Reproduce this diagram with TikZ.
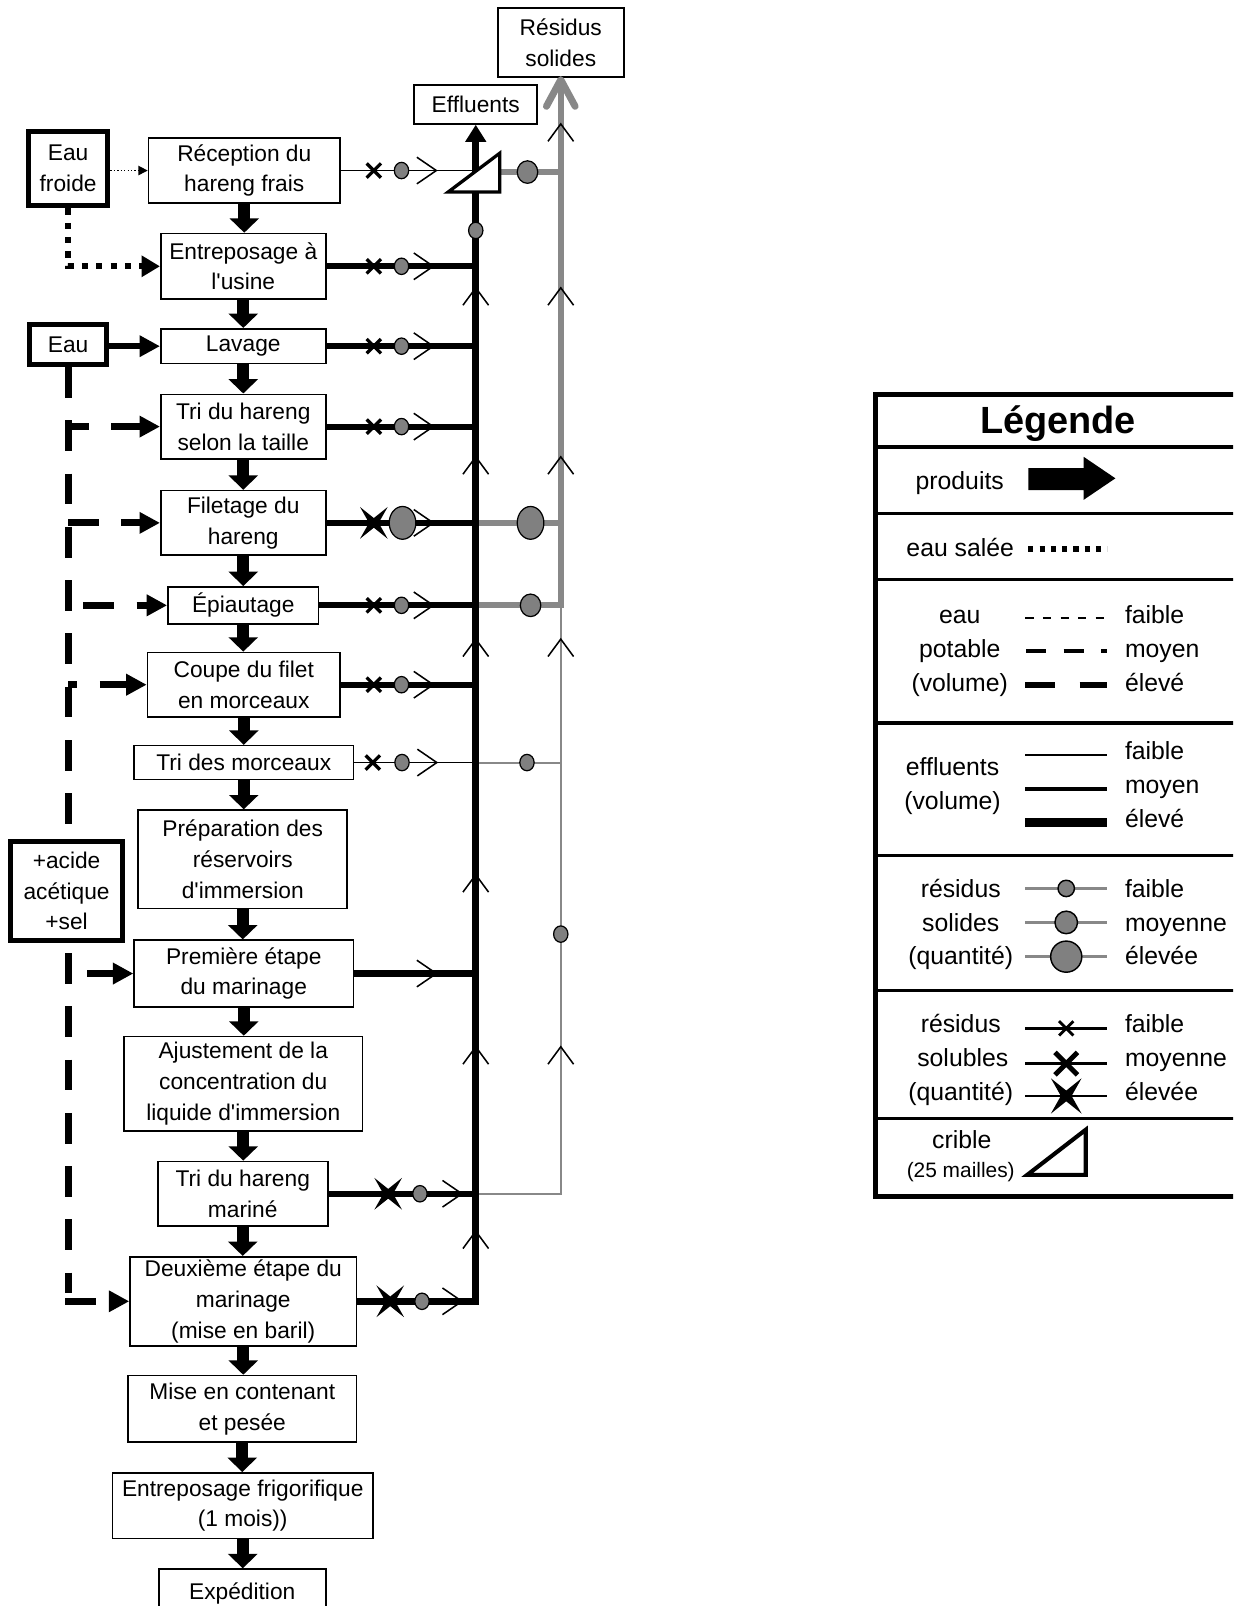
\documentclass[tikz,border=0pt]{standalone}
\usepackage{fontspec}
\setmainfont{Liberation Sans}[Ligatures=TeXOff]
\usetikzlibrary{arrows.meta}
\definecolor{lgray}{RGB}{136,136,136}
\definecolor{cgray}{RGB}{128,128,128}
\newcommand\flowbox[7][]{%
  \node[box,#1,minimum width={(#5-#3)*0.5pt},minimum height={(#6-#4)*0.5pt}]
    (#2) at ({(#3+#5)/2},{(#4+#6)/2}) {#7};}
\newcommand\smx[3][1.6pt]{\draw[line width=#1] ({#2-7},{#3-7}) -- ({#2+7},{#3+7}) ({#2-7},{#3+7}) -- ({#2+7},{#3-7});}
\newcommand\bigx[3]{\fill ({#1-#3},{#2-1.15*#3}) -- (#1,{#2-0.35*#3}) -- ({#1+#3},{#2-1.15*#3}) -- ({#1+0.35*#3},#2) -- ({#1+#3},{#2+1.15*#3}) -- (#1,{#2+0.35*#3}) -- ({#1-#3},{#2+1.15*#3}) -- ({#1-0.35*#3},#2) -- cycle;}
\newcommand\gdot[4]{\draw[fill=cgray,line width=0.6pt] (#1,#2) ellipse [x radius=#3pt, y radius=#4pt];}
\newcommand\hchev[2]{\draw[line width=0.75pt] ({#1-19},{#2-13}) -- (#1,#2) -- ({#1-19},{#2+13});}
\newcommand\vchev[2]{\draw[line width=0.75pt] ({#1-12.5},{#2+17}) -- (#1,#2) -- ({#1+12.5},{#2+17});}
\begin{document}
\begin{tikzpicture}[x=0.5pt,y=-0.5pt,
  box/.style={draw,line width=0.8pt,fill=white,inner sep=0pt,align=center,font=\fontsize{11.1}{15}\selectfont},
  tbox/.style={box,line width=2.5pt},
  prod/.style={line width=6pt,-{Triangle[width=14pt,length=7pt]}},
  effthick/.style={line width=3pt},
  effthin/.style={line width=0.9pt},
  gthick/.style={lgray,line width=3pt},
  gthin/.style={lgray,line width=1pt},
  wdash/.style={line width=3.4pt,dash pattern=on 15pt off 11pt},
  wtip/.style={-{Triangle[width=10pt,length=10pt]}},
  lt/.style={font=\fontsize{12.1}{14}\selectfont,inner sep=0pt,anchor=base},
  lw/.style={lt,anchor=base west},
]
\useasboundingbox (0,0) rectangle (1204,1568);
\clip (0,0) rectangle (1204,1568);

% ---------- process boxes
\flowbox{rec}{145}{135}{332}{198}{Réception du\\hareng frais}
\flowbox{ent}{157}{228}{318}{292}{Entreposage à\\l'usine}
\flowbox{lav}{157}{321}{318}{355}{Lavage}
\flowbox{trih}{157}{385}{318}{448}{Tri du hareng\\selon la taille}
\flowbox{fil}{157}{479}{318}{542}{Filetage du\\hareng}
\flowbox{epi}{164}{573}{311}{609}{Épiautage}
\flowbox{coupe}{144}{637}{332}{700}{Coupe du filet\\en morceaux}
\flowbox{trim}{131}{728}{345}{761}{Tri des morceaux}
\flowbox{prep}{135}{791}{339}{887}{Préparation des\\réservoirs\\d'immersion}
\flowbox{prem}{131}{918}{345}{983}{Première étape\\du marinage}
\flowbox{aju}{121}{1012}{354}{1104}{Ajustement de la\\concentration du\\liquide d'immersion}
\flowbox{trimar}{154}{1134}{320}{1197}{Tri du hareng\\mariné}
\flowbox{deux}{127}{1227}{348}{1314}{Deuxième étape du\\marinage\\(mise en baril)}
\flowbox{mise}{125}{1343}{348}{1408}{Mise en contenant\\et pesée}
\flowbox{frigo}{110}{1438}{364}{1502}{Entreposage frigorifique\\(1 mois))}
\flowbox{exped}{155}{1532}{318}{1580}{Expédition}

\flowbox{effl}{404.5}{83}{524.5}{121}{Effluents}
\flowbox{res}{486}{8}{609}{75}{Résidus\\solides}
\flowbox[tbox]{ef}{28}{128}{105}{201}{Eau\\froide}
\flowbox[tbox]{eau}{29}{317}{104}{356}{Eau}

\coordinate (ev) at (464.5,0);
\coordinate (gv) at (547.5,0);
\coordinate (wv) at (66.5,0);
\coordinate (wv2) at (63.5,0);
\coordinate (wbot) at (66.5,1262);
\coordinate (pa) at (85,0);
\coordinate (scr) at (466,166.5);
\coordinate (scrout) at (489,168);

% ---------- product arrows
\foreach \a/\b in {rec/ent,ent/lav,lav/trih,trih/fil,fil/epi,epi/coupe,coupe/trim,trim/prep,prep/prem,prem/aju,aju/trimar,trimar/deux,deux/mise,mise/frigo,frigo/exped}
  \draw[prod] (\a.south) -- (\a.south |- \b.north);

% ---------- gray (solid residues)
\draw[gthick] (scrout) -- (scrout -| gv);
\draw[gthick] (ev |- fil.east) -- (gv |- fil.east);
\draw[gthin] (gv |- epi.east) -- (gv |- trimar.east) -- (ev |- trimar.east);
\draw[gthin] (ev |- trim.east) -- (gv |- trim.east);
\draw[gthick,line join=miter] (ev |- epi.east) -- (gv |- epi.east) -- ([yshift=-1pt]res.south);
\draw[lgray,line width=3.4pt,line cap=round,line join=round] ([xshift=-7pt,yshift=-14pt]res.south) -- ([yshift=-1pt]res.south) -- ([xshift=7pt,yshift=-14pt]res.south);

% ---------- effluents
\draw[effthin] (rec.east) -- (scr);
\foreach \b in {ent,lav,trih,fil,epi,coupe,prem,trimar}
  \draw[effthick] (\b.east) -- (\b.east -| ev);
\draw[effthin] (trim.east) -- (trim.east -| ev);
\draw[line width=3.3pt,line join=miter,-{Triangle[width=9.75pt,length=8.3pt]}] (deux.east) -- (deux.east -| ev) -- (effl.south);

% screen
\draw[line width=1.6pt,fill=white,line join=miter] (437.5,187.5) -- (488,149.5) -- (488,187.5) -- cycle;

% vertical chevrons
\foreach \y in {281,446,624,854,1022,1202} \vchev{464.5}{\y};
\foreach \y in {121,281,446,624,1022} \vchev{547.5}{\y};

% row markers
\smx{365}{166.5} \gdot{392}{166.5}{3.5}{4} \hchev{426}{166.5}
\gdot{515}{168}{5}{5.5}
\gdot{464.5}{225}{3.5}{4}
\foreach \y in {260,338,416.5,591,668.5} {\smx{365}{\y} \gdot{392}{\y}{3.5}{4} \hchev{423}{\y}}
\bigx{365}{510.5}{13.5} \gdot{393}{510.5}{6.5}{8} \hchev{423}{510.5}
\gdot{518}{510.5}{6.5}{8}
\gdot{518}{591}{5}{5.5}
\smx{364}{744.5} \gdot{392.5}{744.5}{3.5}{4} \hchev{426.5}{744.5}
\gdot{514.5}{744.5}{3.5}{4}
\hchev{426}{950.5}
\gdot{547.5}{912}{3.5}{4}
\bigx{379}{1165.5}{13.5} \gdot{410}{1165.5}{3.5}{4} \hchev{451}{1165.5}
\bigx{381}{1270.5}{13.5} \gdot{412}{1270.5}{3.5}{4} \hchev{451}{1270.5}

% ---------- water inputs
\draw[densely dotted,line width=0.7pt,-{Triangle[width=4.5pt,length=4.5pt]}] (rec.west -| ef.east) -- (rec.west);
\draw[line width=3pt,dash pattern=on 3pt off 4pt,-{Triangle[width=10pt,length=9pt]}] (ef.south) -- (ef.south |- ent.west) -- (ent.west);
\draw[line width=3pt,wtip] (lav.west -| eau.east) -- (lav.west);
\draw[wdash] (eau.south) -- (wbot);
\draw[wdash,wtip,dash phase=5pt] (trih.west -| wv) -- (trih.west);
\draw[wdash,wtip] (fil.west -| wv) -- (fil.west);
\draw[wdash,wtip,dash phase=18.5pt] (epi.west -| wv) -- (epi.west);
\draw[wdash,wtip,dash phase=10.5pt] (coupe.west -| wv) -- (coupe.west);
\draw[wdash,wtip] (deux.west -| wv2) -- (deux.west);
\flowbox[tbox]{acid}{10}{822}{120}{918}{+acide\\acétique\\+sel}
\draw[line width=3pt,wtip] (prem.west -| pa) -- (prem.west);

% ---------- legend
\draw[line width=2.5pt] (1215,385) -- (855,385) -- (855,1168) -- (1215,1168);
\foreach \y in {436.5,501,566,706,835,967,1092} \draw[line width=1.6pt] (855,\y) -- (1215,\y);
\node[lt,font=\bfseries\fontsize{18.5}{20}\selectfont] at (1033,423) {Légende};
\node[lt] at (937,478) {produits};
\fill (1004,457) -- (1058,457) -- (1058,446) -- (1089,467) -- (1058,488) -- (1058,478.5) -- (1004,478.5) -- cycle;
\node[lt] at (937.5,543) {eau salée};
\draw[line width=2.5pt,dash pattern=on 2.5pt off 3pt] (1004,536) -- (1081,536);
\node[lt] at (937,609) {eau};
\node[lt] at (937,642) {potable};
\node[lt] at (937,675) {(volume)};
\draw[line width=0.85pt,dash pattern=on 4.05pt off 4.55pt] (1001,603.5) -- (1081,603.5);
\draw[line width=2pt,dash pattern=on 9.75pt off 8.5pt] (1002,636) -- (1081,636);
\draw[line width=3pt,dash pattern=on 14.5pt off 12pt] (1001,669) -- (1081,669);
\node[lw] at (1098,609) {faible};
\node[lw] at (1098,642) {moyen};
\node[lw] at (1098,675) {élevé};
\node[lt] at (930,757.5) {effluents};
\node[lt] at (930,790.5) {(volume)};
\draw[line width=0.85pt] (1001,737) -- (1081,737);
\draw[line width=2pt] (1001,770) -- (1081,770);
\draw[line width=4pt] (1001,803) -- (1081,803);
\node[lw] at (1098,742) {faible};
\node[lw] at (1098,775) {moyen};
\node[lw] at (1098,808) {élevé};
\node[lt] at (938,876) {résidus};
\node[lt] at (938,909) {solides};
\node[lt] at (938,942) {(quantité)};
\foreach \y in {867.4,900.6,934} \draw[lgray,line width=1.65pt] (1001,\y) -- (1081,\y);
\draw[fill=cgray,line width=0.7pt] (1041,867.4) circle [radius=4pt];
\draw[fill=cgray,line width=0.7pt] (1041,900.6) circle [radius=5.5pt];
\draw[fill=cgray,line width=0.7pt] (1041,934) circle [radius=7.6pt];
\node[lw] at (1098,876) {faible};
\node[lw] at (1098,909) {moyenne};
\node[lw] at (1098,942) {élevée};
\node[lt] at (938,1008) {résidus};
\node[lt] at (940,1041) {solubles};
\node[lt] at (938,1074) {(quantité)};
\foreach \y in {1004,1038.5,1070} \draw[line width=1.35pt] (1001,\y) -- (1081,\y);
\smx[1.4pt]{1041}{1004}
\draw[line width=2.4pt] (1030,1027.5) -- (1052,1049.5) (1030,1049.5) -- (1052,1027.5);
\bigx{1041}{1070}{15}
\node[lw] at (1098,1008) {faible};
\node[lw] at (1098,1041) {moyenne};
\node[lw] at (1098,1074) {élevée};
\node[lt] at (939,1121) {crible};
\node[lt,font=\fontsize{10.2}{12}\selectfont] at (938,1150) {(25 mailles)};
\draw[line width=2pt,line join=miter] (1003,1147) -- (1060,1103) -- (1060,1147) -- cycle;
\end{tikzpicture}
\end{document}
